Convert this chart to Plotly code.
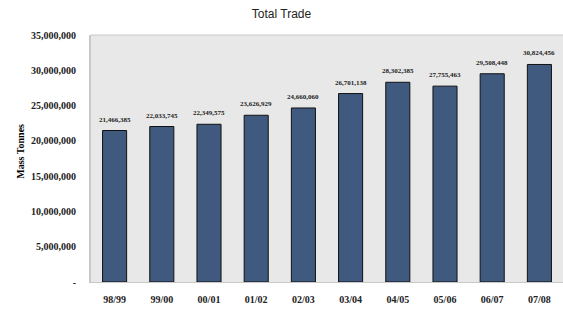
import plotly.graph_objects as go

years = ["98/99", "99/00", "00/01", "01/02", "02/03", "03/04", "04/05", "05/06", "06/07", "07/08"]
tonnes = [21466385, 22033745, 22349575, 23626929, 24660060, 26701138, 28302385, 27755463, 29508448, 30824456]
ytick_vals = [0, 5000000, 10000000, 15000000, 20000000, 25000000, 30000000, 35000000]
ytick_text = ["-", "5,000,000", "10,000,000", "15,000,000", "20,000,000", "25,000,000", "30,000,000", "35,000,000"]

serif = "Liberation Serif"

fig = go.Figure()
fig.add_trace(go.Bar(
    x=years, y=tonnes,
    marker=dict(color="#3F5A7E", line=dict(color="#111111", width=1)),
    hoverinfo="skip",
))

for xv, yv in zip(years, tonnes):
    fig.add_annotation(x=xv, y=yv, text=f"{yv:,}", showarrow=False,
                       yshift=11, font=dict(family=serif, size=7, color="#222222", weight="bold"))

fig.add_annotation(x=-0.167, y=0.53, xref="paper", yref="paper", text="Mass Tonnes",
                   textangle=-90, showarrow=False,
                   font=dict(family=serif, size=10, color="#000000", weight="bold"))

fig.update_layout(
    width=563, height=309,
    margin=dict(l=91, r=0, t=35, b=27),
    paper_bgcolor="white",
    plot_bgcolor="#E8E8E8",
    showlegend=False,
    bargap=0.49,
    title=dict(text="Total Trade", x=0.5, xanchor="center", y=0.955, yanchor="middle",
               font=dict(family="Liberation Sans", size=12, color="#222222")),
)
fig.update_xaxes(
    type="category",
    showgrid=False, showline=True, linecolor="#C8C8C8", linewidth=1,
    ticks="outside", ticklen=8, tickcolor="rgba(0,0,0,0)",
    tickfont=dict(family=serif, size=10, color="#222222", weight="bold"),
    automargin=False,
)
fig.update_yaxes(
    range=[0, 35000000], showgrid=False, zeroline=False,
    showline=True, linecolor="#C8C8C8", linewidth=2,
    tickvals=ytick_vals, ticktext=ytick_text,
    ticks="outside", ticklen=11, tickcolor="rgba(0,0,0,0)",
    tickfont=dict(family=serif, size=10, color="#222222", weight="bold"),
    automargin=False,
)
fig.add_shape(type="line", xref="paper", yref="paper", x0=0, x1=1, y0=1, y1=1,
              line=dict(color="#C8C8C8", width=1))

fig.write_html("out.html", config={"displayModeBar": False},
               post_script="document.body.style.margin='0';")
